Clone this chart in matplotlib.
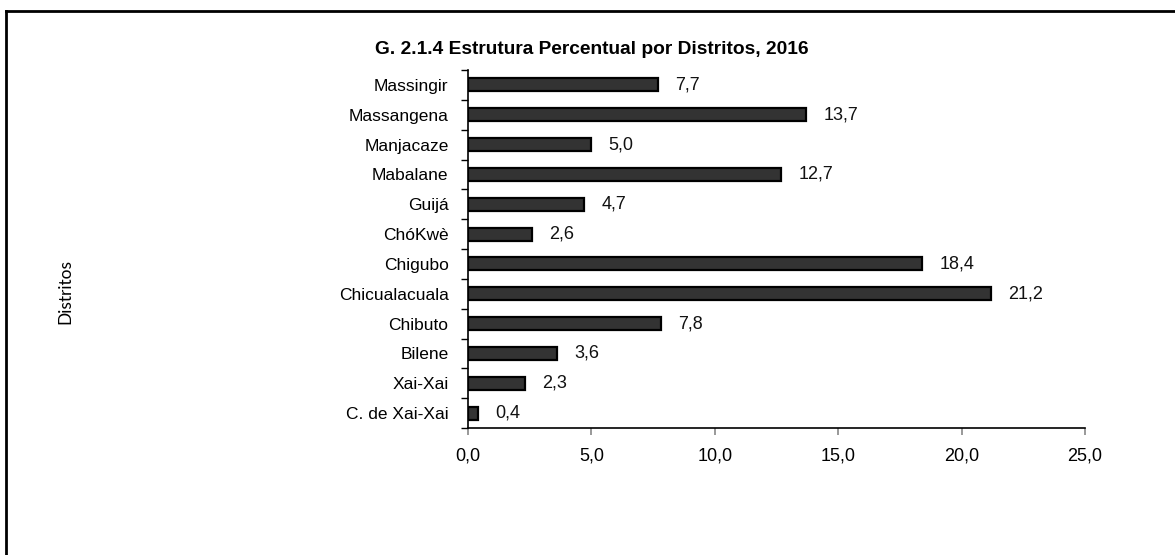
import matplotlib
matplotlib.use('Agg')
import matplotlib.pyplot as plt
from matplotlib.lines import Line2D
from matplotlib.ticker import FixedLocator, FuncFormatter
import numpy as np

# Dados (de baixo para cima)
distritos = ['C. de Xai-Xai', 'Xai-Xai', 'Bilene', 'Chibuto', 'Chicualacuala',
             'Chigubo', 'ChóKwè', 'Guijá', 'Mabalane', 'Manjacaze',
             'Massangena', 'Massingir']
valores = [0.4, 2.3, 3.6, 7.8, 21.2, 18.4, 2.6, 4.7, 12.7, 5.0, 13.7, 7.7]
xticks = [0, 5, 10, 15, 20, 25]

plt.rcParams['font.family'] = ['Liberation Sans', 'DejaVu Sans']

fig = plt.figure(figsize=(11.75, 5.55), dpi=100)
ax = fig.add_axes([468/1175, 1 - 428/555, 617/1175, 358/555])

y = np.arange(len(distritos))
ax.barh(y, valores, height=0.44, color='#333333', edgecolor='black', linewidth=1.6)

# rótulos de valor
for yi, v in zip(y, valores):
    ax.text(v + 0.7, yi, f'{v:.1f}'.replace('.', ','), va='center', ha='left',
            fontsize=13, color='#111111')

ax.set_xlim(0, 25)
ax.set_ylim(-0.5, len(distritos) - 0.5)
ax.set_xticks(xticks)
ax.xaxis.set_major_formatter(FuncFormatter(lambda v, p: f'{v:.1f}'.replace('.', ',')))
ax.tick_params(axis='x', length=5, color='#888888', width=1.2, pad=9, labelsize=13)

ax.set_yticks(y)
ax.set_yticklabels(distritos)
ax.yaxis.set_minor_locator(FixedLocator(np.arange(-0.5, len(distritos), 1)))
ax.tick_params(axis='y', which='major', length=0, pad=14, labelsize=12.5)
ax.tick_params(axis='y', which='minor', length=5, width=1, color='black')

for s in ['top', 'right']:
    ax.spines[s].set_visible(False)
for s in ['left', 'bottom']:
    ax.spines[s].set_linewidth(1.2)
    ax.spines[s].set_color('black')

fig.text(592/1175, 1 - 50/555, 'G. 2.1.4 Estrutura Percentual por Distritos, 2016',
         ha='center', va='center', fontsize=13.8, fontweight='bold')
fig.text(65/1175, 1 - 292/555, 'Distritos', rotation=90, ha='center', va='center',
         fontsize=12.5, family=['Lato', 'DejaVu Sans'])

# moldura (apenas topo e esquerda visíveis)
fig.add_artist(Line2D([6/1175, 1], [1 - 11/555, 1 - 11/555], color='black', linewidth=2))
fig.add_artist(Line2D([6/1175, 6/1175], [0, 1 - 11/555], color='black', linewidth=2))

fig.savefig('out.png', dpi=100)
